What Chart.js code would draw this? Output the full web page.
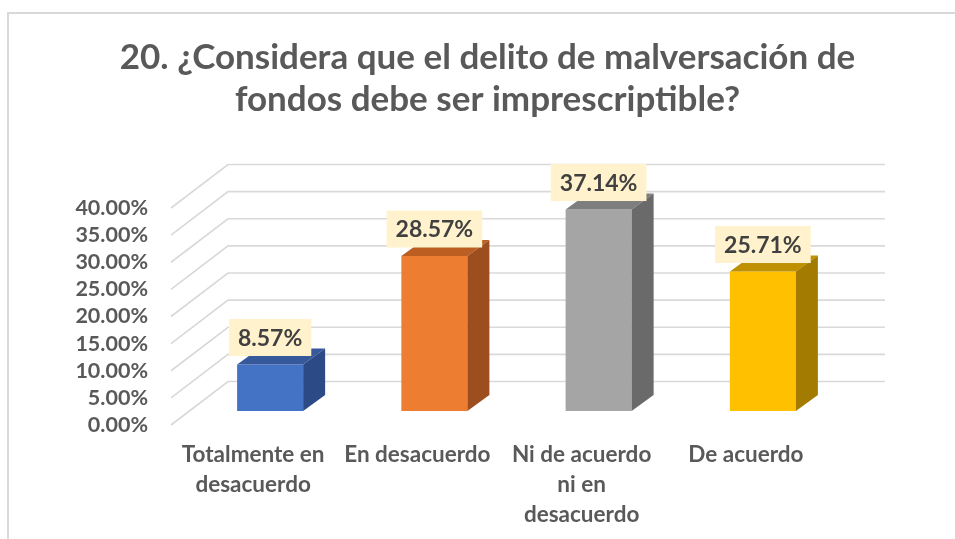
<!DOCTYPE html>
<html><head><meta charset="utf-8">
<script src="https://cdn.jsdelivr.net/npm/chart.js@4.4.1/dist/chart.umd.min.js"></script>
<style>
html,body{margin:0;padding:0;background:#fff;overflow:hidden;width:955px;height:539px;}
#frame{position:absolute;left:7px;top:12px;width:1000px;height:600px;border:2px solid #D9D9D9;box-sizing:border-box;}
#wrap{position:absolute;left:0;top:0;width:955px;height:539px;}
</style></head><body>
<div id="frame"></div>
<div id="wrap"><canvas id="c" width="955" height="539"></canvas></div>
<script>
const titleLines = ['20. ¿Considera que el delito de malversación de', 'fondos debe ser imprescriptible?'];
const categories = [['Totalmente en', 'desacuerdo'], 'En desacuerdo', ['Ni de acuerdo', 'ni en', 'desacuerdo'], 'De acuerdo'];
const values = [8.57, 28.57, 37.14, 25.71];
const valueLabels = ['8.57%', '28.57%', '37.14%', '25.71%'];
const tickLabels = ['0.00%', '5.00%', '10.00%', '15.00%', '20.00%', '25.00%', '30.00%', '35.00%', '40.00%'];
const frontColors = ['#4472C4', '#ED7D31', '#A5A5A5', '#FFC000'];
const topColors = ['#36599C', '#BC5E22', '#7E7E7E', '#BF9000'];
const sideColors = ['#2C4A85', '#9C4E1E', '#6A6A6A', '#A37B00'];

const FONT = 'Lato, Carlito, Calibri, sans-serif';
const D = { wallDx: 40, wallDy: -29.5, frontDx: -17, frontDy: 14, barDx: 22, barDy: -16 };

const threeD = {
  id: 'threeD',
  beforeDatasetsDraw(chart) {
    const { ctx, chartArea: a, scales: { y } } = chart;
    ctx.save();
    ctx.strokeStyle = '#D9D9D9';
    ctx.lineWidth = 1.7;
    y.ticks.forEach(t => {
      const py = y.getPixelForValue(t.value);
      ctx.beginPath();
      ctx.moveTo(a.left + D.frontDx, py + D.frontDy);
      ctx.lineTo(a.left + D.wallDx, py + D.wallDy);
      ctx.lineTo(a.right + D.wallDx, py + D.wallDy);
      ctx.stroke();
    });
    ctx.restore();
  },
  afterDatasetsDraw(chart) {
    const { ctx } = chart;
    const meta = chart.getDatasetMeta(0);
    ctx.save();
    meta.data.forEach((bar, i) => {
      const { x, y, base, width } = bar.getProps(['x', 'y', 'base', 'width'], true);
      const x0 = x - width / 2, x1 = x + width / 2;
      ctx.fillStyle = topColors[i];
      ctx.beginPath();
      ctx.moveTo(x0, y); ctx.lineTo(x1, y);
      ctx.lineTo(x1 + D.barDx, y + D.barDy); ctx.lineTo(x0 + D.barDx, y + D.barDy);
      ctx.closePath(); ctx.fill();
      ctx.fillStyle = sideColors[i];
      ctx.beginPath();
      ctx.moveTo(x1, y); ctx.lineTo(x1 + D.barDx, y + D.barDy);
      ctx.lineTo(x1 + D.barDx, base + D.barDy); ctx.lineTo(x1, base);
      ctx.closePath(); ctx.fill();
    });
    meta.data.forEach((bar, i) => {
      const { x, y } = bar.getProps(['x', 'y'], true);
      ctx.font = 'bold 23px ' + FONT;
      const tw = ctx.measureText(valueLabels[i]).width;
      const bw = tw + 18, bh = 37;
      const by = y - 8.5 - bh;
      ctx.fillStyle = '#FFF2CC';
      ctx.fillRect(x - bw / 2, by, bw, bh);
      ctx.fillStyle = '#404040';
      ctx.textAlign = 'center';
      ctx.textBaseline = 'middle';
      ctx.fillText(valueLabels[i], x, by + bh / 2 + 1);
    });
    ctx.restore();
  }
};

new Chart(document.getElementById('c'), {
  type: 'bar',
  data: {
    labels: categories,
    datasets: [{
      data: values,
      backgroundColor: frontColors,
      borderWidth: 0,
      categoryPercentage: 1,
      barPercentage: 0.402,
      yAxisID: 'y'
    }]
  },
  options: {
    responsive: false,
    devicePixelRatio: 1,
    animation: false,
    layout: { padding: { top: 16, left: 20, right: 0, bottom: 9 } },
    plugins: {
      legend: { display: false },
      tooltip: { enabled: false },
      title: {
        display: true,
        text: titleLines,
        color: '#595959',
        font: { family: FONT, size: 35, weight: 'bold', lineHeight: 1.2 },
        padding: { top: 21, bottom: 73 }
      }
    },
    scales: {
      x: {
        grid: { display: false, drawTicks: false },
        border: { display: false },
        afterFit(scale) { scale.height = 119; },
        ticks: {
          color: '#595959',
          font: { family: FONT, size: 22.5, weight: 'bold', lineHeight: 30 / 22.5 },
          padding: 29,
          labelOffset: -17,
          maxRotation: 0,
          autoSkip: false
        }
      },
      y: {
        position: 'left',
        min: 0, max: 40,
        grid: { display: false, drawTicks: false },
        border: { display: false },
        afterFit(scale) { scale.width = 168; },
        ticks: {
          stepSize: 5,
          autoSkip: false,
          color: '#595959',
          font: { family: FONT, size: 21.5, weight: 'bold' },
          padding: 40,
          labelOffset: 14,
          callback: (v, idx) => tickLabels[idx]
        }
      },
      yR: {
        position: 'right',
        min: 0, max: 1,
        grid: { display: false, drawTicks: false },
        border: { display: false },
        ticks: { display: false },
        afterFit(scale) { scale.width = 110; }
      }
    }
  },
  plugins: [threeD]
});
</script>
</body></html>
